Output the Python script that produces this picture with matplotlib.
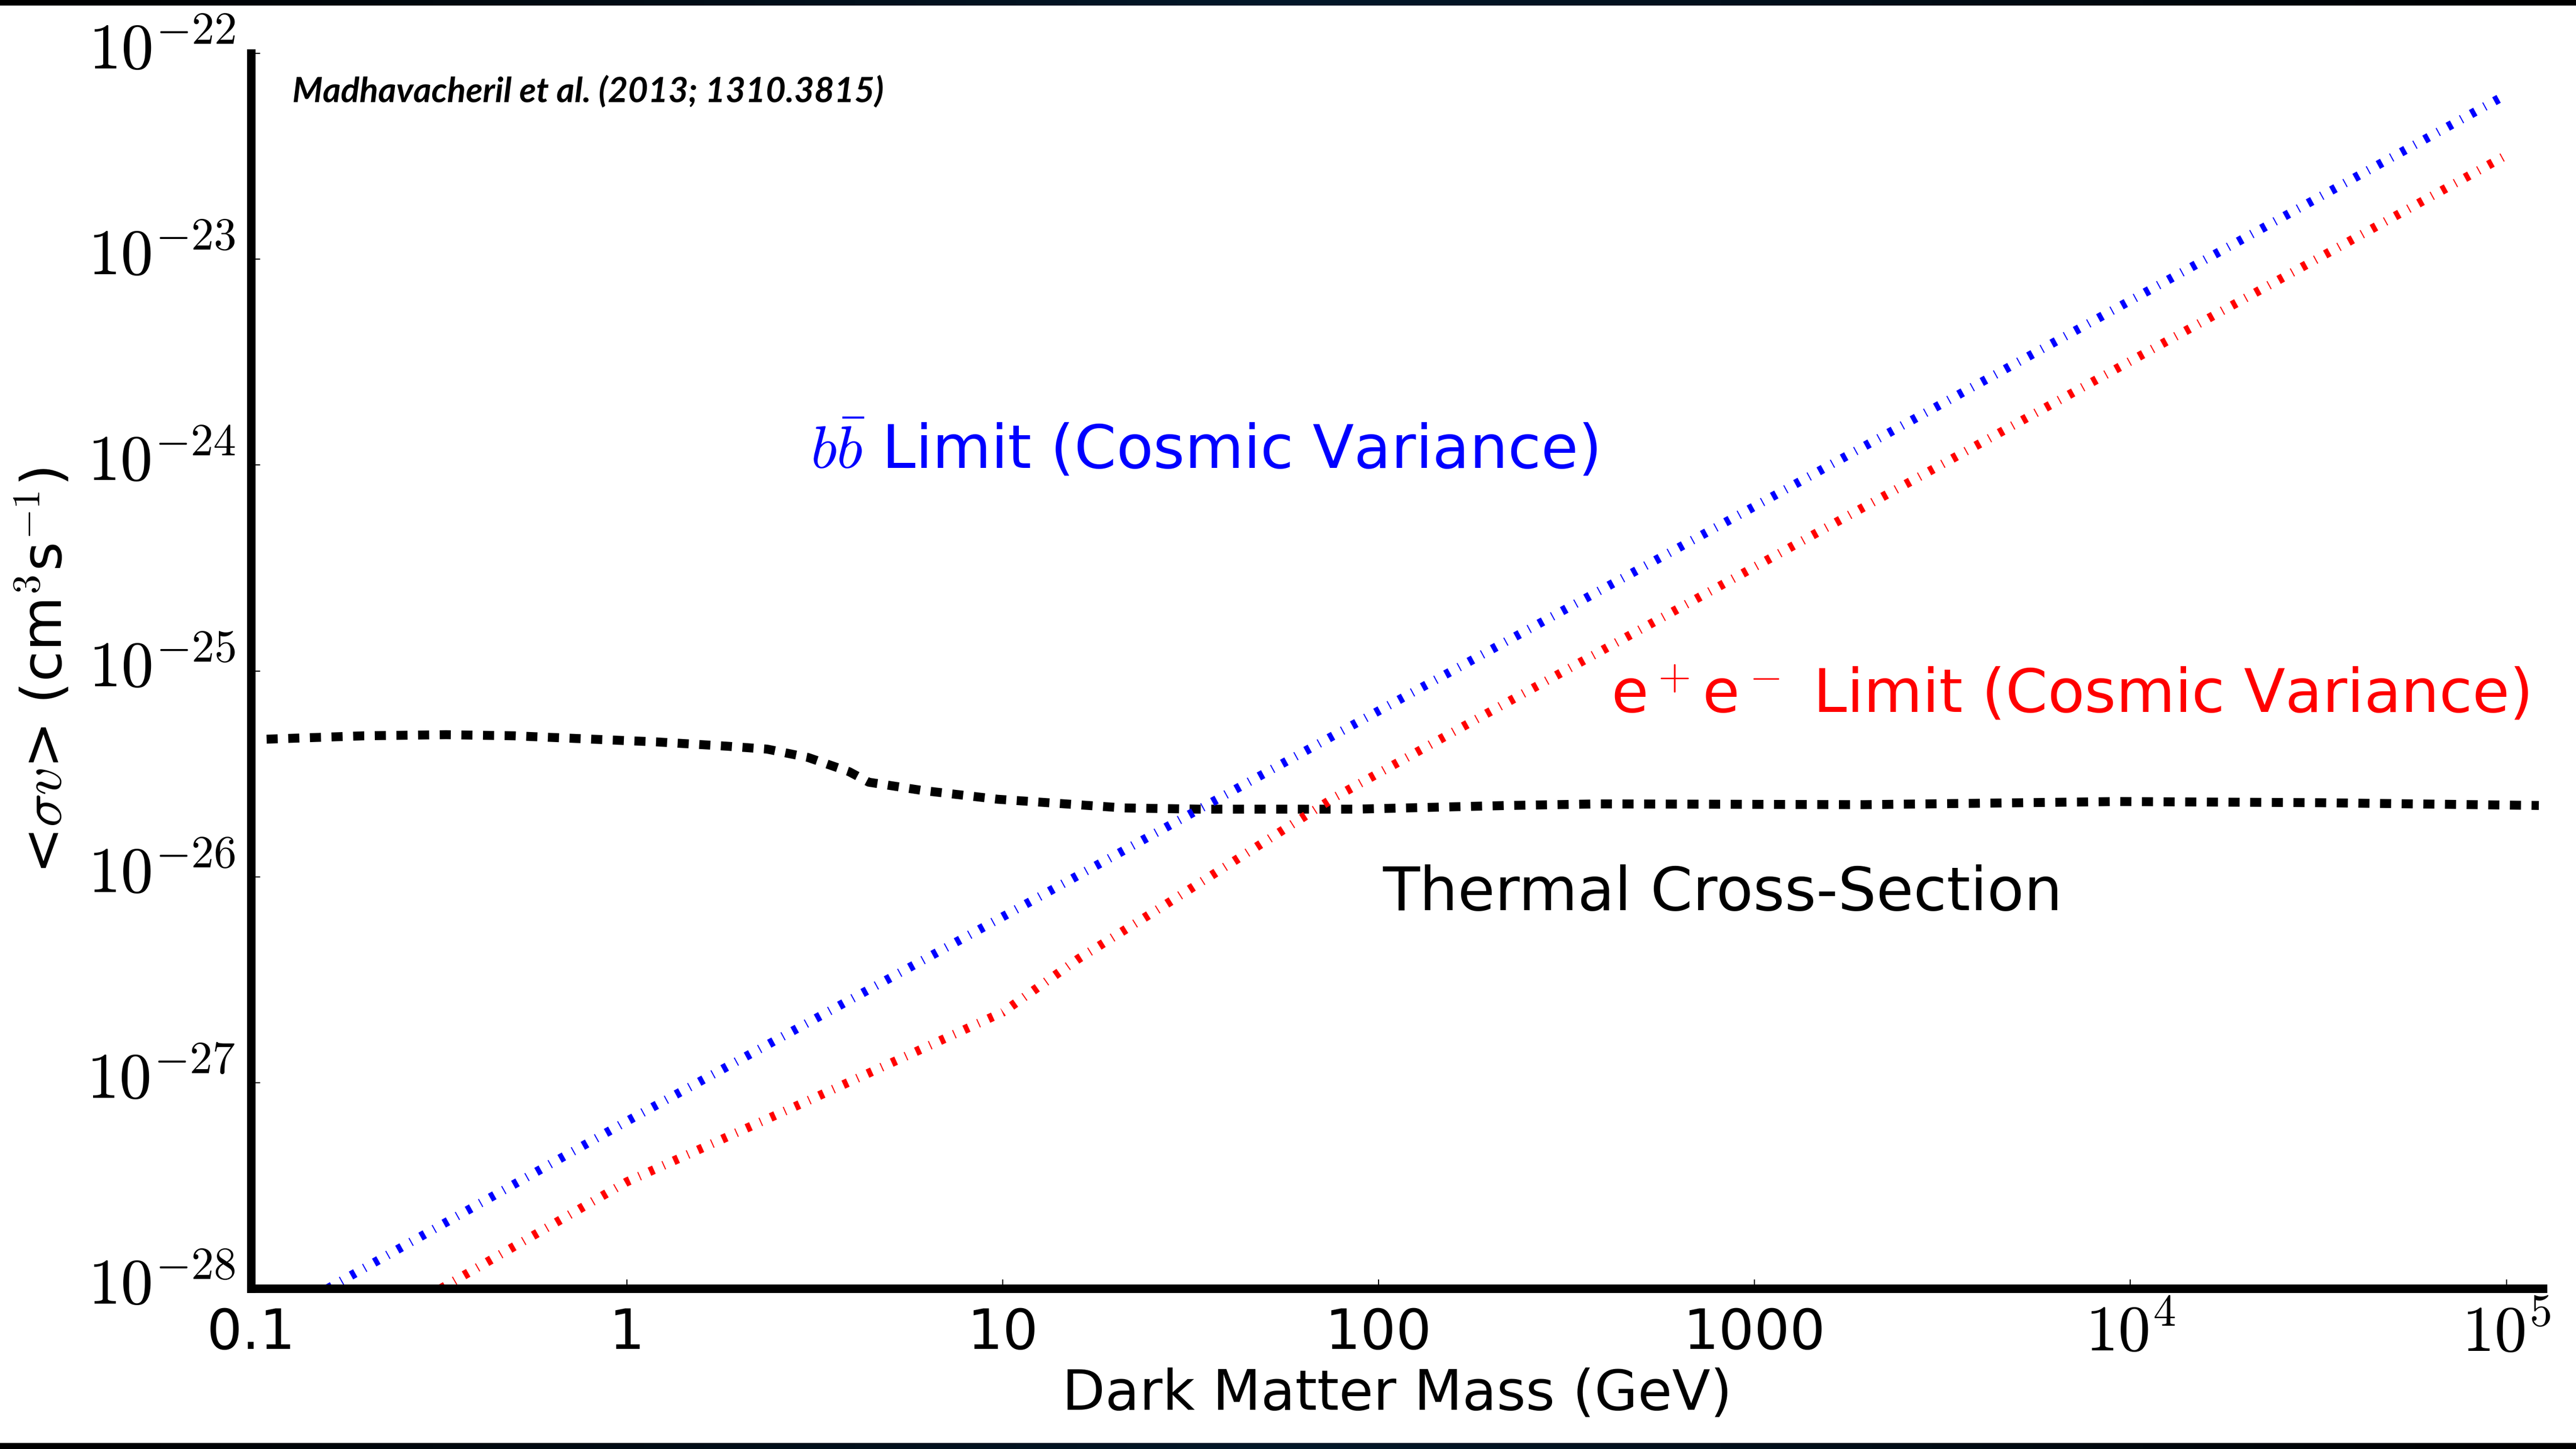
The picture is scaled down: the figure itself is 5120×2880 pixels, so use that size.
import matplotlib.pyplot as plt
import matplotlib.transforms as mtransforms
import numpy as np
from matplotlib.colors import LinearSegmentedColormap

plt.rcParams['mathtext.fontset'] = 'cm'
plt.rcParams['font.family'] = 'DejaVu Sans'

# Thermal relic cross-section (GeV, cm^3/s)
thermal_mass = [0.11, 0.2, 0.33, 0.5, 0.81, 1.2, 1.84, 2.36, 3.03, 3.9, 4.4,
                6.07, 9.7, 21, 33.5, 86, 221, 388, 1941, 9268, 3.2e4, 1.22e5]
thermal_sv = [4.66e-26, 4.84e-26, 4.9e-26, 4.84e-26, 4.66e-26, 4.52e-26, 4.31e-26,
              4.17e-26, 3.8e-26, 3.24e-26, 2.88e-26, 2.63e-26, 2.38e-26, 2.16e-26,
              2.13e-26, 2.13e-26, 2.22e-26, 2.26e-26, 2.24e-26, 2.32e-26, 2.29e-26,
              2.22e-26]

# b bbar channel limit
bb_mass = [0.16, 1, 10, 100, 1e3, 1e4, 1e5]
bb_sv = [1.0e-28, 6.5e-28, 6.4e-27, 6.4e-26, 6.3e-25, 6.3e-24, 6.3e-23]

# e+e- channel limit
ee_mass = [0.32, 1, 3, 10, 15.9, 27, 76, 196, 1e3, 1e4, 1e5]
ee_sv = [1.0e-28, 3.3e-28, 8.1e-28, 2.2e-27, 4.0e-27, 7.3e-27, 2.42e-26,
         6.28e-26, 3.2e-25, 3.2e-24, 3.2e-23]

xticks = [0.1, 1, 10, 100, 1000, 1e4, 1e5]
xticklabels = ['0.1', '1', '10', '100', '1000', r'$10^4$', r'$10^5$']
yticks = [1e-28, 1e-27, 1e-26, 1e-25, 1e-24, 1e-23, 1e-22]
yticklabels = [r'$10^{%d}$' % p for p in range(-28, -21)]

fig = plt.figure(figsize=(16, 9), dpi=320)
fig.patch.set_facecolor('white')

# thin dark bands along top and bottom edges
band_cmap = LinearSegmentedColormap.from_list('band', ['#000000', '#03182a', '#000000'])
ramp = np.linspace(0, 1, 256).reshape(1, -1)
for y0, h in [(1 - 11 / 2880, 11 / 2880), (0, 12 / 2880)]:
    bax = fig.add_axes([0, y0, 1, h])
    bax.imshow(ramp, cmap=band_cmap, aspect='auto')
    bax.set_axis_off()

ax = fig.add_axes([499 / 5120, 1 - 2561 / 2880, (5054 - 499) / 5120, (2561 - 106) / 2880])

ax.plot(thermal_mass, thermal_sv, color='black', lw=4, dashes=(1.24, 1.18))
ax.plot(bb_mass, bb_sv, color='blue', lw=4, dashes=(0.55, 1.15, 0.12, 1.15))
ax.plot(ee_mass, ee_sv, color='red', lw=4, dashes=(0.55, 1.15, 0.12, 1.15))

ax.set_xscale('log')
ax.set_yscale('log')
ax.set_xlim(0.1, 1.25e5)
ax.set_ylim(1e-28, 1e-22)

ax.set_xticks(xticks)
ax.set_xticklabels(xticklabels)
ax.set_yticks(yticks)
ax.set_yticklabels(yticklabels)
ax.minorticks_off()
ax.tick_params(direction='in', length=4, width=0.5, labelsize=25, pad=8)
ax.tick_params(axis='y', labelsize=29, pad=7)
# power-of-ten labels on x are set in the math font, a little larger
for lbl in ax.get_xticklabels()[5:]:
    lbl.set_fontsize(29)
    lbl.set_transform(lbl.get_transform() +
                      mtransforms.ScaledTranslation(0, 2 / 72, fig.dpi_scale_trans))
# nudge the y labels up so the base sits on the tick
for lbl in ax.get_yticklabels():
    lbl.set_transform(lbl.get_transform() +
                      mtransforms.ScaledTranslation(0, 4 / 72, fig.dpi_scale_trans))

for side in ['top', 'right']:
    ax.spines[side].set_visible(False)
for side in ['left', 'bottom']:
    ax.spines[side].set_linewidth(3.8)

ax.set_xlabel('Dark Matter Mass (GeV)', fontsize=25, labelpad=1)
ax.set_ylabel(r'<$\sigma v$> (cm$^3$s$^{-1}$)', fontsize=25, labelpad=6)

ax.text(3.08, 9.66e-25, r'$b\bar{b}$ Limit (Cosmic Variance)', color='blue', fontsize=27)
ax.text(415, 6.28e-26, r'e$^+$e$^-$ Limit (Cosmic Variance)', color='red', fontsize=27)
ax.text(102.5, 6.87e-27, 'Thermal Cross-Section', color='black', fontsize=27)
ax.text(0.018, 0.961, 'Madhavacheril et al. (2013; 1310.3815)', transform=ax.transAxes,
        fontsize=15.5, family='Lato', weight='bold', style='italic')

fig.savefig('out.png', dpi=320)
